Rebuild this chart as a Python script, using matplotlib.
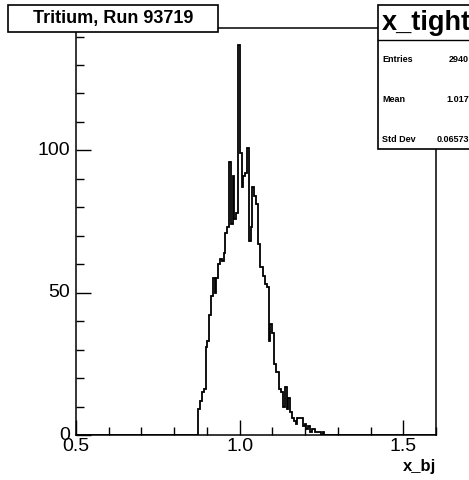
import numpy as np
import matplotlib
matplotlib.use("Agg")
import matplotlib.pyplot as plt
from matplotlib.patches import Rectangle
from matplotlib.ticker import MultipleLocator

## Datos del histograma (200 bins entre 0.5 y 1.6)
n_bins = 200
x_min, x_max = 0.5, 1.6
first_bin = 68  # primer bin con entradas
counts_window = [9, 12, 15, 16, 31, 33, 42, 49, 55, 50,
                 55, 60, 62, 61, 64, 71, 73, 96, 74, 91,
                 76, 78, 137, 99, 87, 91, 92, 101, 68, 73,
                 87, 84, 81, 67, 59, 59, 56, 53, 52, 33,
                 39, 36, 25, 22, 22, 16, 15, 10, 17, 9,
                 13, 8, 6, 5, 4, 6, 6, 6, 3, 4,
                 2, 3, 1, 2, 2, 1, 1, 1, 0, 1]

title_text = "Tritium, Run 93719"
hist_name = "x_tight"
stats_labels = ["Entries", "Mean", "Std Dev"]
stats_values = ["2940", "1.017", "0.06573"]
x_label = "x_bj"

counts = np.zeros(n_bins)
counts[first_bin:first_bin + len(counts_window)] = counts_window
edges = np.linspace(x_min, x_max, n_bins + 1)

plt.rcParams['font.family'] = ['Liberation Sans', 'DejaVu Sans']

W, H = 469, 480
fig = plt.figure(figsize=(W / 100, H / 100), dpi=100)
ax = fig.add_axes([76 / W, 1 - 435 / H, 360 / W, 407 / H])

ax.stairs(counts, edges, color='black', linewidth=1.3)

ax.set_xlim(x_min, x_max)
ax.set_ylim(0, 143)

# ticks estilo ROOT
ax.xaxis.set_major_locator(MultipleLocator(0.5))
ax.xaxis.set_minor_locator(MultipleLocator(0.1))
ax.yaxis.set_major_locator(MultipleLocator(50))
ax.yaxis.set_minor_locator(MultipleLocator(10))
ax.tick_params(which='both', direction='in', top=False, right=False, width=1)
ax.tick_params(which='major', length=11, labelsize=14)
ax.tick_params(which='minor', length=5.5)
ax.tick_params(axis='x', which='major', pad=2)
ax.tick_params(axis='y', which='major', pad=4)
ax.set_xticks([0.5, 1.0, 1.5])
ax.set_xticklabels(["0.5", "1.0", "1.5"])
ax.set_yticks([0, 50, 100])
ax.set_yticklabels(["0", "50", "100"])
for lab in ax.get_yticklabels():
    lab.set_verticalalignment('center')
for s in ax.spines.values():
    s.set_linewidth(1.1)

fig.text(436 / W, 1 - 471 / H, x_label, ha='right', va='baseline',
         fontsize=12, fontweight='bold')

# caja del titulo
fig.add_artist(Rectangle((8 / W, 1 - 32 / H), 210 / W, 27 / H, transform=fig.transFigure,
                         facecolor='white', edgecolor='black', linewidth=1.2))
fig.text(113 / W, 1 - 18.5 / H, title_text, ha='center', va='center',
         fontsize=13, fontweight='bold')

# caja de estadisticas
fig.add_artist(Rectangle((378 / W, 1 - 149 / H), 100 / W, 144 / H, transform=fig.transFigure,
                         facecolor='white', edgecolor='black', linewidth=1.2))
fig.add_artist(plt.Line2D([378 / W, 1], [1 - 40 / H, 1 - 40 / H], transform=fig.transFigure,
                          color='black', linewidth=1))
fig.text(382 / W, 1 - 23 / H, hist_name, ha='left', va='center',
         fontsize=19.5, fontweight='bold')
for i in range(len(stats_labels)):
    y = 1 - (59 + 40 * i) / H
    fig.text(382 / W, y, stats_labels[i], ha='left', va='center', fontsize=6.5, fontweight='bold')
    fig.text(469 / W, y, stats_values[i], ha='right', va='center', fontsize=6.5, fontweight='bold')

fig.savefig("out.png", dpi=100)
